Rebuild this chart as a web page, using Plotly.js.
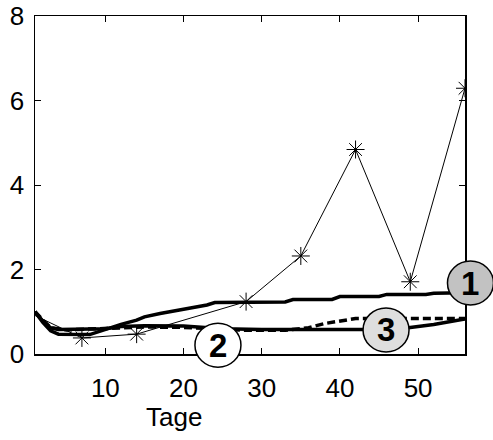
<!DOCTYPE html>
<html>
<head>
<meta charset="utf-8">
<script src="https://cdn.plot.ly/plotly-3.0.1.min.js"></script>
<style>
  html, body { margin: 0; padding: 0; background: #ffffff; }
  #chart { width: 493px; height: 440px; }
</style>
</head>
<body>
<div id="chart"></div>
<script>
// Weekly measurements (asterisks, thin line)
const starDays = [0, 7, 14, 28, 35, 42, 49, 56];
const starVals = [1.0, 0.38, 0.47, 1.24, 2.32, 4.84, 1.71, 6.29];

// Curve 1: thick solid, rising
const c1Days = [1, 2, 3, 4, 8, 9, 10, 12, 14, 15, 17, 19, 21, 23, 24, 33, 34, 39, 40, 45, 46, 51, 52, 56];
const c1Vals = [1.0, 0.75, 0.55, 0.47, 0.46, 0.52, 0.6, 0.7, 0.8, 0.88, 0.96, 1.03, 1.1, 1.16, 1.22, 1.23, 1.29, 1.29, 1.36, 1.36, 1.41, 1.41, 1.44, 1.45];

// Curve 2: thick dashed
const c2Days = [1, 2, 3, 5, 10, 15, 20, 23, 28, 33, 36, 38, 40, 42, 56];
const c2Vals = [1.0, 0.8, 0.62, 0.57, 0.6, 0.64, 0.63, 0.6, 0.56, 0.56, 0.62, 0.72, 0.78, 0.84, 0.84];

// Curve 3: thick solid, flat then rising at the end
const c3Days = [1, 2, 3, 4, 10, 12, 15, 20, 25, 30, 47, 49, 52, 56];
const c3Vals = [1.0, 0.78, 0.62, 0.58, 0.6, 0.65, 0.67, 0.66, 0.6, 0.58, 0.58, 0.62, 0.7, 0.83];

// Circled curve labels
const labelText = ['1', '2', '3'];
const labelDays = [56.7, 24.4, 45.9];
const labelVals = [1.68, 0.21, 0.57];
const labelFill = ['#c2c2c2', '#ffffff', '#dedede'];

const xTicks = [10, 20, 30, 40, 50];
const yTicks = [0, 2, 4, 6, 8];

const FONT = 'Liberation Sans, Arial, Helvetica, sans-serif';
const X_RANGE = [1, 56];
const Y_RANGE = [0, 8];

// Badges use paper coordinates so they may overhang the plot frame without clipping
const toPaperX = d => (d - X_RANGE[0]) / (X_RANGE[1] - X_RANGE[0]);
const toPaperY = v => (v - Y_RANGE[0]) / (Y_RANGE[1] - Y_RANGE[0]);

const traces = [
  {
    x: c3Days, y: c3Vals, type: 'scatter', mode: 'lines',
    line: { color: '#000', width: 3.5 }, hoverinfo: 'skip'
  },
  {
    x: c2Days, y: c2Vals, type: 'scatter', mode: 'lines',
    line: { color: '#000', width: 3.5, dash: '8px,4px' }, hoverinfo: 'skip'
  },
  {
    x: c1Days, y: c1Vals, type: 'scatter', mode: 'lines',
    line: { color: '#000', width: 3.5 }, hoverinfo: 'skip'
  },
  {
    x: starDays, y: starVals, type: 'scatter', mode: 'lines+markers',
    line: { color: '#000', width: 1 },
    marker: { symbol: 'asterisk-open', size: 15, color: '#000', line: { color: '#000', width: 1 } },
    hoverinfo: 'skip'
  }
];

const shapes = labelText.map((t, i) => ({
  type: 'circle', layer: 'above',
  xref: 'paper', yref: 'paper',
  xsizemode: 'pixel', ysizemode: 'pixel',
  xanchor: toPaperX(labelDays[i]), yanchor: toPaperY(labelVals[i]),
  x0: -23, x1: 23, y0: -22, y1: 22,
  fillcolor: labelFill[i], line: { color: '#000', width: 1.5 }
}));

const labelAnns = labelText.map((t, i) => ({
  text: '<b>' + t + '</b>', xref: 'paper', yref: 'paper',
  x: toPaperX(labelDays[i]), y: toPaperY(labelVals[i]),
  xanchor: 'center', yanchor: 'middle', showarrow: false,
  font: { family: FONT, size: 33, color: '#000' }
}));

const layout = {
  width: 493, height: 440,
  margin: { l: 35, r: 28, t: 16, b: 86 },
  paper_bgcolor: '#ffffff', plot_bgcolor: '#ffffff',
  showlegend: false,
  font: { family: FONT, size: 26, color: '#000' },
  xaxis: {
    range: X_RANGE, tickvals: xTicks, ticktext: xTicks.map(String),
    ticks: 'inside', ticklen: 6, tickwidth: 1, tickcolor: '#000',
    showline: true, linecolor: '#000', linewidth: 1.5, mirror: 'ticks',
    showgrid: false, zeroline: false,
    tickfont: { family: FONT, size: 26, color: '#000' },
    ticklabelstandoff: 10
  },
  yaxis: {
    range: Y_RANGE, tickvals: yTicks, ticktext: yTicks.map(String),
    ticks: 'inside', ticklen: 6, tickwidth: 1, tickcolor: '#000',
    showline: true, linecolor: '#000', linewidth: 1.5, mirror: 'ticks',
    showgrid: false, zeroline: false,
    tickfont: { family: FONT, size: 26, color: '#000' },
    ticklabelstandoff: 4
  },
  shapes: shapes,
  annotations: [
    {
      text: 'Tage', xref: 'paper', yref: 'paper',
      x: 0.324, y: -0.186, xanchor: 'center', yanchor: 'middle',
      showarrow: false, font: { family: FONT, size: 26, color: '#000' }
    }
  ].concat(labelAnns)
};

Plotly.newPlot('chart', traces, layout, { displayModeBar: false, staticPlot: true });
</script>
</body>
</html>
